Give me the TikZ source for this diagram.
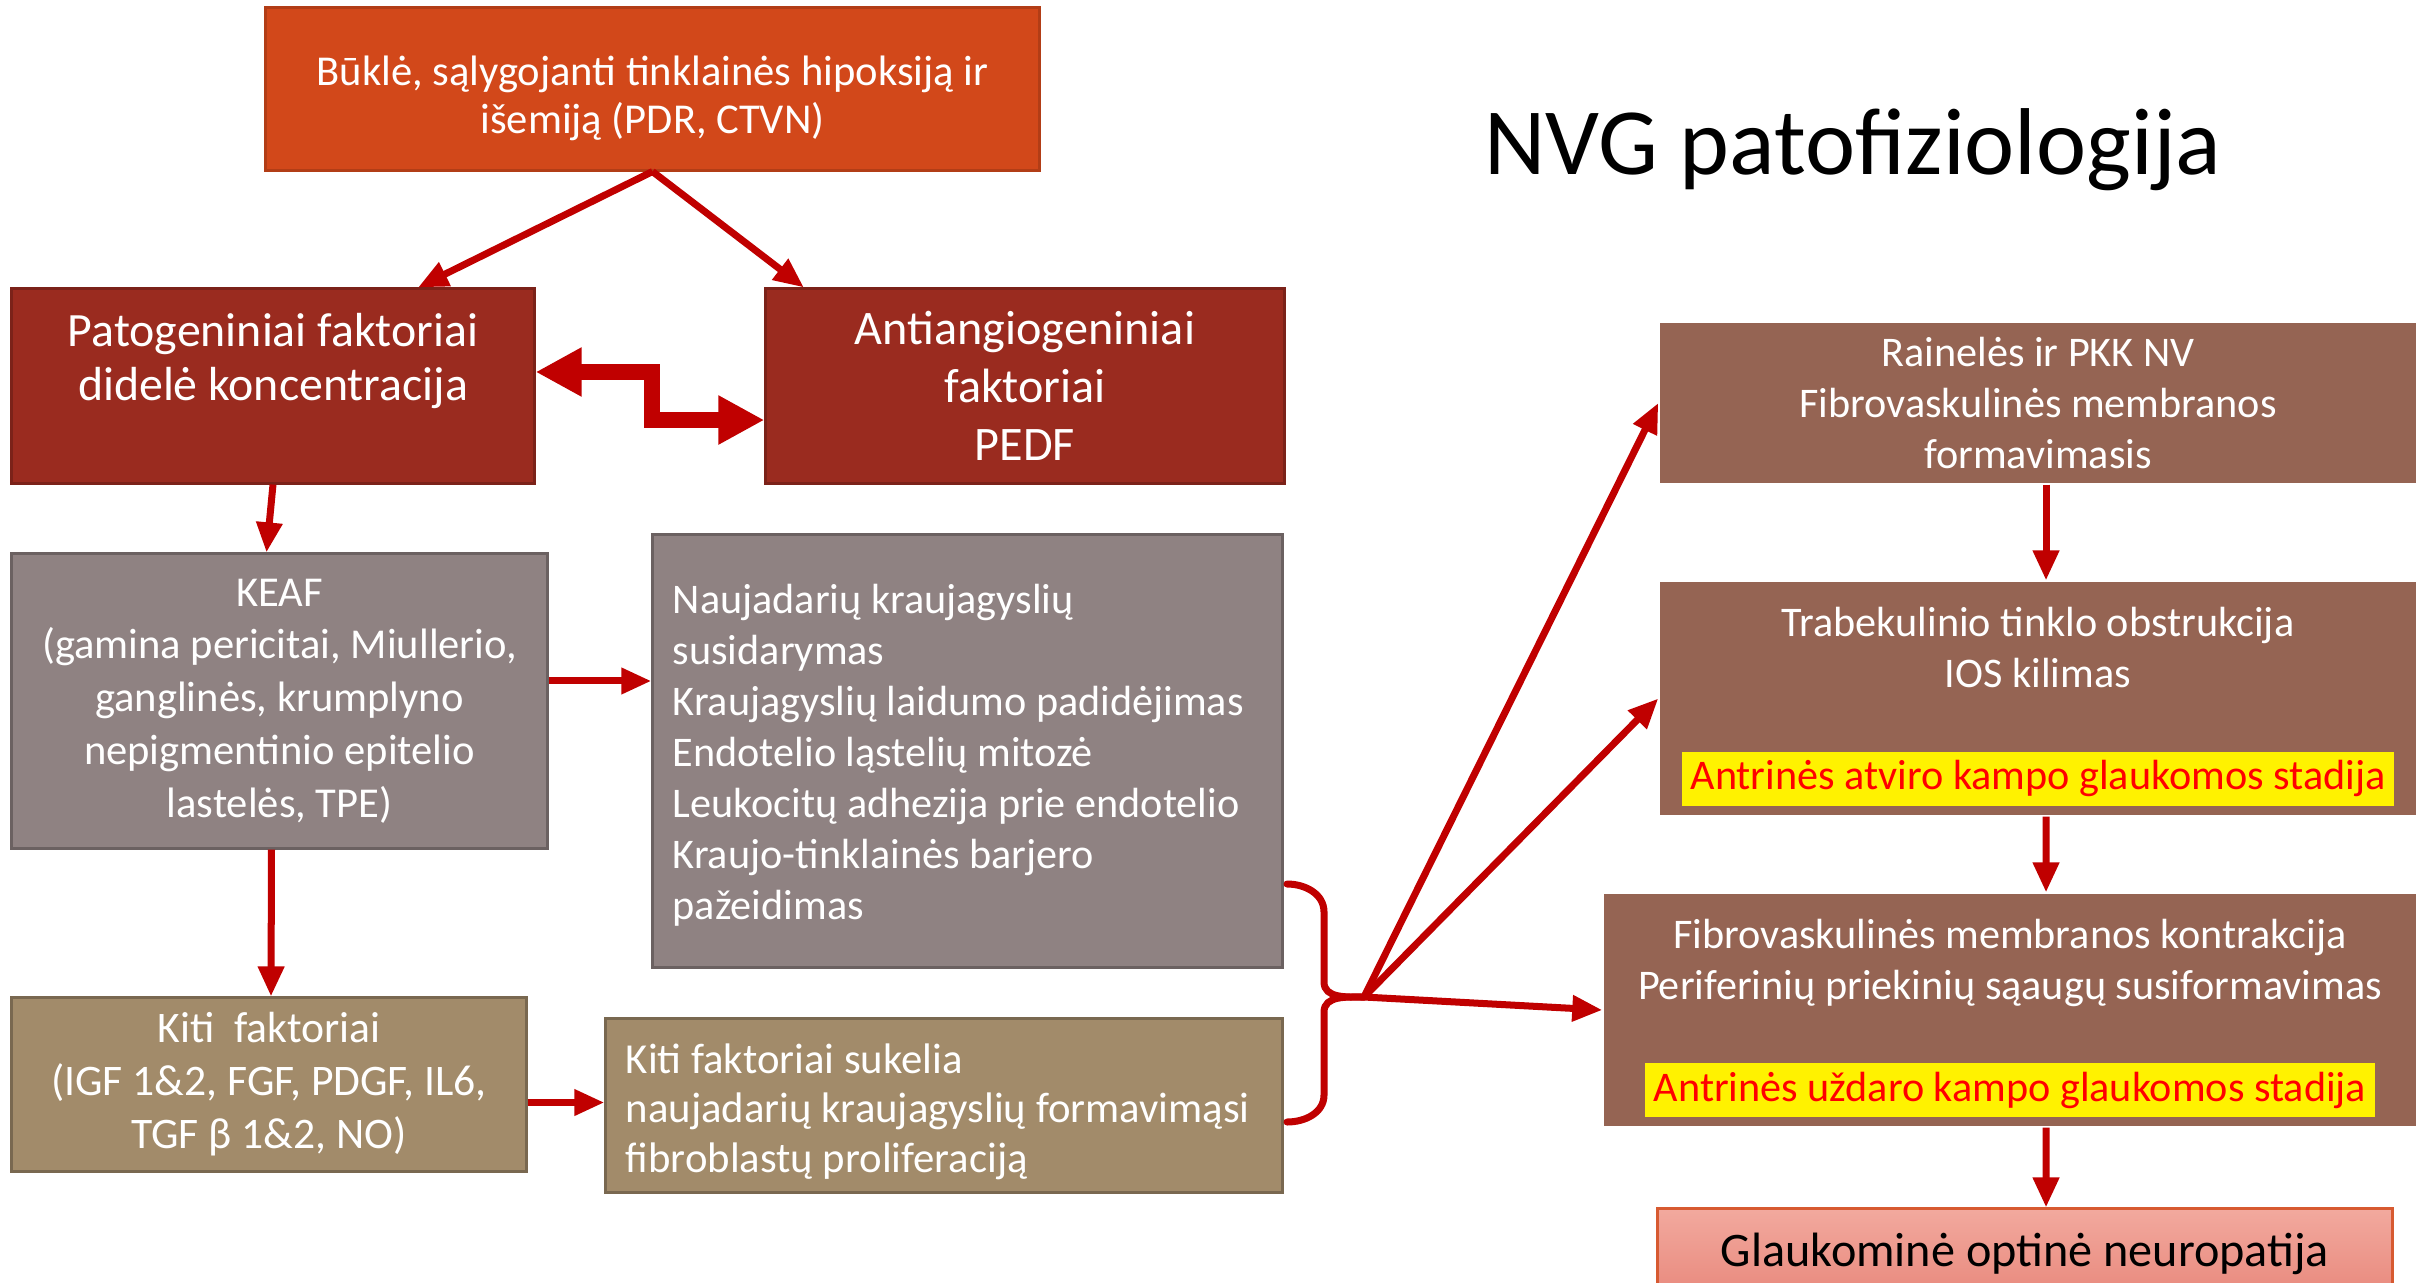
\documentclass[tikz,border=0pt]{standalone}
\usepackage{fontspec}
\setmainfont{Carlito}
\usetikzlibrary{arrows.meta}
\definecolor{burnt}{HTML}{D2481A}
\definecolor{rust}{HTML}{9A2B1F}
\definecolor{ashgrey}{HTML}{8F8282}
\definecolor{khaki}{HTML}{A28B6A}
\definecolor{cocoa}{HTML}{956453}
\definecolor{salmontop}{HTML}{F2A99E}
\definecolor{salmonbot}{HTML}{E8887C}
\definecolor{arrowred}{HTML}{C00000}
\setlength{\fboxsep}{2.5pt}
\newcommand{\hilite}[1]{\colorbox{yellow}{\textcolor{red}{#1}}}

\begin{document}
\begin{tikzpicture}[x=0.01cm,y=-0.01cm,
  blk/.style={rectangle, line width=0.03cm, text=white, align=center, inner sep=0pt},
  arr/.style={arrowred, line width=0.07cm, -{Triangle[length=0.3cm,width=0.25cm]}},
  brc/.style={arrowred, line width=0.07cm, line cap=round}]
\fill[white] (0,0) rectangle (2425,1282);
\useasboundingbox (0,0) rectangle (2425,1282);

\node[font=\fontsize{27}{32}\selectfont] (title) at (1853,150) {NVG patofiziologija};

\node[blk, fill=burnt, draw=burnt!85!black, minimum width=7.73cm, minimum height=1.62cm,
  font=\fontsize{12.1}{13.7}\selectfont] (cause) at (652.5,89)
  {\rule{0pt}{13.6pt}Būklė, sąlygojanti tinklainės hipoksiją ir\\išemiją (PDR, CTVN)};
\node[blk, fill=rust, draw=rust!80!black, minimum width=5.22cm, minimum height=1.94cm,
  font=\fontsize{13.6}{15.4}\selectfont] (pato) at (273,386)
  {Patogeniniai faktoriai\\didelė koncentracija\rule[-16.5pt]{0pt}{16.5pt}};
\node[blk, fill=rust, draw=rust!80!black, minimum width=5.18cm, minimum height=1.94cm,
  font=\fontsize{13.7}{16.5}\selectfont] (anti) at (1025,386)
  {Antiangiogeniniai\\faktoriai\\PEDF};
\node[blk, fill=ashgrey, draw=ashgrey!75!black, minimum width=5.35cm, minimum height=2.94cm,
  font=\fontsize{12.1}{15}\selectfont] (keaf) at (279.5,701)
  {KEAF\\(gamina pericitai, Miullerio,\\ganglinės, krumplyno\\nepigmentinio epitelio\\lastelės, TPE)};
\node[blk, fill=ashgrey, draw=ashgrey!75!black, minimum height=4.32cm, inner xsep=0.2cm,
  text width=5.89cm, align=flush left, font=\fontsize{12}{14.5}\selectfont] (naujo) at (967.5,751)
  {\rule{0pt}{11pt}Naujadarių kraujagyslių\\susidarymas\\Kraujagyslių laidumo padidėjimas\\Endotelio ląstelių mitozė\\Leukocitų adhezija prie endotelio\\Kraujo-tinklainės barjero\\pažeidimas};
\node[blk, fill=khaki, draw=khaki!75!black, minimum width=5.14cm, minimum height=1.73cm,
  font=\fontsize{12.4}{15.1}\selectfont] (kiti) at (269,1084.5)
  {Kiti\ \ faktoriai\\(IGF 1\&2, FGF, PDGF, IL6,\\TGF β 1\&2, NO)};
\node[blk, fill=khaki, draw=khaki!75!black, minimum height=1.73cm, inner xsep=0.2cm,
  text width=6.36cm, align=flush left, font=\fontsize{12.15}{14.1}\selectfont] (sukelia) at (944,1105.5)
  {\rule{0pt}{12pt}Kiti faktoriai sukelia\\naujadarių kraujagyslių formavimąsi\\fibroblastų proliferaciją};

\node[blk, fill=cocoa, minimum width=7.56cm, minimum height=1.6cm,
  font=\fontsize{12}{14.5}\selectfont] (raine) at (2038,403)
  {Rainelės ir PKK NV\\Fibrovaskulinės membranos\\formavimasis};
\node[blk, fill=cocoa, minimum width=7.56cm, minimum height=2.33cm,
  font=\fontsize{12}{14.5}\selectfont] (trab) at (2038,698.5)
  {\rule{0pt}{13pt}Trabekulinio tinklo obstrukcija\\IOS kilimas\\[14.5pt]\hilite{Antrinės atviro kampo glaukomos stadija}};
\node[blk, fill=cocoa, minimum width=8.12cm, minimum height=2.32cm,
  font=\fontsize{12}{14.5}\selectfont] (fibro) at (2010,1010)
  {\rule{0pt}{13pt}Fibrovaskulinės membranos kontrakcija\\Periferinių priekinių sąaugų susiformavimas\\[14.5pt]\hilite{Antrinės uždaro kampo glaukomos stadija}};
\node[blk, top color=salmontop, bottom color=salmonbot, draw=burnt!90, text=black,
  minimum width=7.34cm, minimum height=0.9cm,
  font=\fontsize{13.7}{16}\selectfont] (glauk) at (2025,1254)
  {Glaukominė optinė neuropatija};

\draw[arr] (cause.south) -- ([xshift=1.45cm]pato.north);
\draw[arr] (cause.south) -- ([xshift=-2.21cm]anti.north);
\draw[arrowred, line width=0.16cm, line join=miter,
  {Triangle[length=0.46cm,width=0.46cm]}-{Triangle[length=0.46cm,width=0.46cm]}]
  ([yshift=0.14cm]pato.east) -- ++(1.16cm,0) |- ([yshift=-0.34cm]anti.west);
\draw[arr] (pato.south) -- ([xshift=-0.13cm]keaf.north);
\draw[arr] ([xshift=-0.08cm]keaf.south) -- ([xshift=0.02cm]kiti.north);
\draw[arr] ([yshift=0.2cm]keaf.east) -- ([yshift=0.2cm]keaf.east -| naujo.west);
\draw[arr] ([yshift=-0.18cm]kiti.east) -- ([yshift=-0.18cm]kiti.east -| sukelia.west);

\coordinate (hub) at (1364,997);
\draw[brc] (1287,884) to[out=0,in=90] (1324,912) -- (1324,982) to[out=-90,in=180] (hub);
\draw[brc] (hub) to[out=180,in=90] (1324,1012) -- (1324,1095) to[out=-90,in=0] (1287,1122);
\draw[arr] (hub) -- (raine.west);
\draw[arr] (hub) -- (trab.west);
\draw[arr] (hub) -- (fibro.west);

\draw[arr] ([xshift=0.08cm]raine.south) -- ([xshift=0.08cm]trab.north);
\draw[arr] ([xshift=0.08cm]trab.south) -- ([xshift=0.36cm]fibro.north);
\draw[arr] ([xshift=0.36cm]fibro.south) -- ([xshift=0.21cm]glauk.north);
\end{tikzpicture}
\end{document}
